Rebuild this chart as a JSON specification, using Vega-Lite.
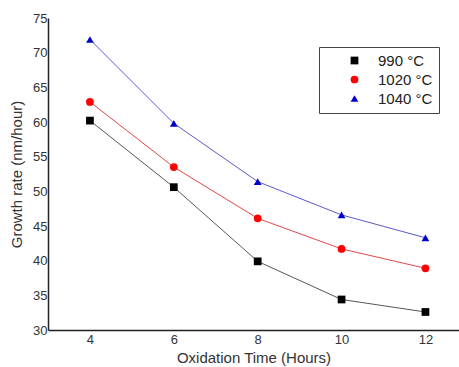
{
  "$schema": "https://vega.github.io/schema/vega-lite/v6.json",
  "autosize": "none",
  "width": 411,
  "height": 312,
  "padding": {"left": 48, "top": 18, "right": 0, "bottom": 37},
  "background": "white",
  "config": {
    "view": {"stroke": null},
    "font": "Liberation Sans",
    "axis": {"grid": false, "domainColor": "#222", "domainWidth": 1.5, "ticks": false, "labelColor": "#333", "labelFontSize": 13, "titleColor": "#333", "titleFontWeight": "normal", "titleFontSize": 15}
  },
  "data": {
    "values": [
      {"t": 4, "v": 60.2, "s": "990 °C"},
      {"t": 6, "v": 50.6, "s": "990 °C"},
      {"t": 8, "v": 39.9, "s": "990 °C"},
      {"t": 10, "v": 34.4, "s": "990 °C"},
      {"t": 12, "v": 32.6, "s": "990 °C"},
      {"t": 4, "v": 62.9, "s": "1020 °C"},
      {"t": 6, "v": 53.5, "s": "1020 °C"},
      {"t": 8, "v": 46.1, "s": "1020 °C"},
      {"t": 10, "v": 41.7, "s": "1020 °C"},
      {"t": 12, "v": 38.9, "s": "1020 °C"},
      {"t": 4, "v": 71.9, "s": "1040 °C"},
      {"t": 6, "v": 59.8, "s": "1040 °C"},
      {"t": 8, "v": 51.4, "s": "1040 °C"},
      {"t": 10, "v": 46.6, "s": "1040 °C"},
      {"t": 12, "v": 43.3, "s": "1040 °C"}
    ]
  },
  "encoding": {
    "x": {"field": "t", "type": "quantitative", "scale": {"domain": [3, 12.8], "nice": false, "zero": false},
      "axis": {"values": [4, 6, 8, 10, 12], "title": "Oxidation Time (Hours)", "labelPadding": 3, "titlePadding": 4}},
    "y": {"field": "v", "type": "quantitative", "scale": {"domain": [30, 75], "nice": false, "zero": false},
      "axis": {"values": [30, 35, 40, 45, 50, 55, 60, 65, 70, 75], "title": "Growth rate (nm/hour)", "labelPadding": 1, "titlePadding": 8, "labelBaseline": "middle"}}
  },
  "resolve": {"scale": {"color": "independent", "shape": "independent"}, "legend": {"color": "independent", "shape": "independent"}},
  "layer": [
    {
      "mark": {"type": "line", "strokeWidth": 1},
      "encoding": {
        "color": {"field": "s", "type": "nominal",
          "scale": {"domain": ["990 °C", "1020 °C", "1040 °C"], "range": ["#555555", "#e04848", "#5a5ac8"]}, "legend": null}
      }
    },
    {
      "mark": {"type": "point", "filled": true, "opacity": 1, "size": 60},
      "encoding": {
        "color": {"field": "s", "type": "nominal",
          "scale": {"domain": ["990 °C", "1020 °C", "1040 °C"], "range": ["#000000", "#ff0000", "#0000cc"]},
          "legend": {"title": null, "orient": "none", "legendX": 271, "legendY": 29, "direction": "vertical",
            "labelFontSize": 15, "labelColor": "#222", "symbolSize": 60, "rowPadding": 3,
            "strokeColor": "#444", "padding": 6, "fillColor": "white", "symbolOffset": 22, "labelOffset": 16, "offset": 0}},
        "shape": {"field": "s", "type": "nominal",
          "scale": {"domain": ["990 °C", "1020 °C", "1040 °C"], "range": ["square", "circle", "triangle-up"]},
          "legend": {"title": null, "orient": "none", "legendX": 271, "legendY": 29, "direction": "vertical",
            "labelFontSize": 15, "labelColor": "#222", "symbolSize": 60, "rowPadding": 3,
            "strokeColor": "#444", "padding": 6, "fillColor": "white", "symbolOffset": 22, "labelOffset": 16, "offset": 0}}
      }
    }
  ]
}
